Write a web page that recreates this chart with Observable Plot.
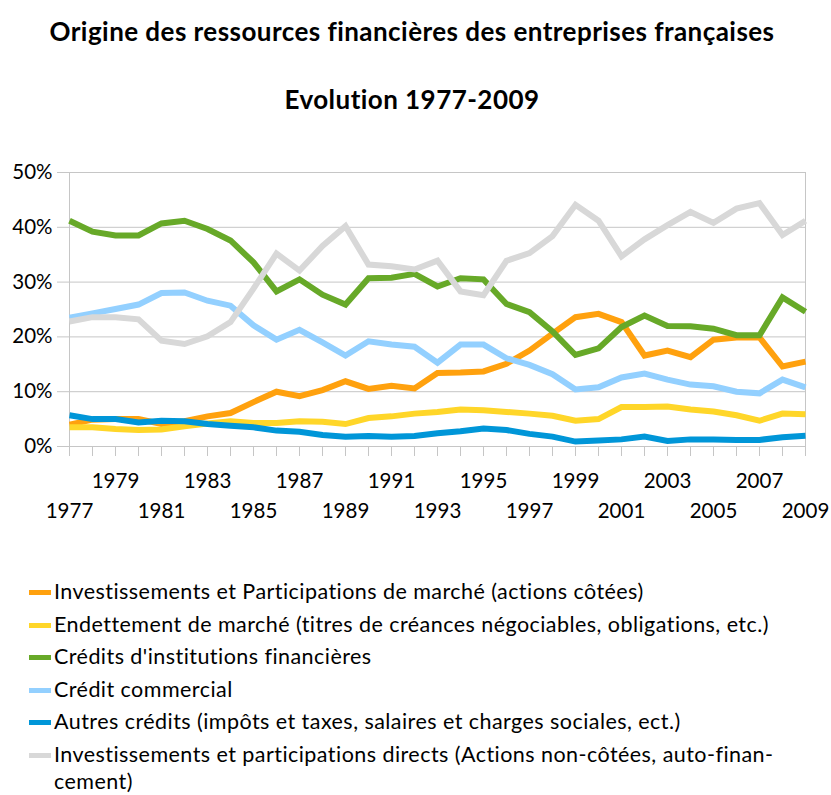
<!DOCTYPE html>
<html><head><meta charset="utf-8">
<script src="https://cdn.jsdelivr.net/npm/d3@7"></script>
<script src="https://cdn.jsdelivr.net/npm/@observablehq/plot@0.6"></script>
<style>
body{margin:0;background:#fff;font-family:Lato,"Open Sans",sans-serif;color:#000;}
#wrap{position:relative;width:831px;height:795px;overflow:hidden;}
.title{position:absolute;left:0;width:824px;text-align:center;font-weight:bold;font-size:26px;line-height:31.2px;letter-spacing:0.45px;white-space:nowrap;}
#chart{position:absolute;left:0;top:140px;}
#legend{position:absolute;left:29px;top:578px;font-size:21.5px;letter-spacing:0.45px;white-space:nowrap;}
.item{display:flex;align-items:flex-start;line-height:27.4px;margin-bottom:5.2px;}
.sw{flex:none;width:21.5px;height:5px;margin-top:12px;margin-right:3.5px;}
</style></head>
<body>
<div id="wrap">
<div class="title" style="top:16px">Origine des ressources financières des entreprises françaises</div>
<div class="title" style="top:84px">Evolution 1977-2009</div>
<div id="chart"></div>
<div id="legend"></div>
</div>
<script>
const years = [1977,1978,1979,1980,1981,1982,1983,1984,1985,1986,1987,1988,1989,1990,1991,1992,1993,1994,1995,1996,1997,1998,1999,2000,2001,2002,2003,2004,2005,2006,2007,2008,2009];
const seriesNames = [
  "Investissements et Participations de marché (actions côtées)",
  "Endettement de marché (titres de créances négociables, obligations, etc.)",
  "Crédits d'institutions financières",
  "Crédit commercial",
  "Autres crédits (impôts et taxes, salaires et charges sociales, ect.)",
  "Investissements et participations directs (Actions non-côtées, auto-financement)"
];
const legendLabels = [
  "Investissements et Participations de marché (actions côtées)",
  "Endettement de marché (titres de créances négociables, obligations, etc.)",
  "Crédits d'institutions financières",
  "Crédit commercial",
  "Autres crédits (impôts et taxes, salaires et charges sociales, ect.)",
  "Investissements et participations directs (Actions non-côtées, auto-finan-<br>cement)"
];
const colors = ["#ffa10e","#ffd629","#67a928","#93d0ff","#0096d8","#d8d8d8"];
const actionsCotees = [4.0,4.9,5.0,5.0,4.1,4.6,5.5,6.1,8.1,10.0,9.2,10.3,11.9,10.5,11.1,10.6,13.4,13.5,13.7,15.1,17.5,20.6,23.6,24.2,22.7,16.6,17.5,16.3,19.5,19.9,19.9,14.6,15.5];
const endettementMarche = [3.5,3.5,3.2,3.0,3.1,3.7,4.2,4.6,4.3,4.3,4.6,4.5,4.1,5.2,5.5,6.0,6.3,6.75,6.6,6.3,6.0,5.6,4.7,5.0,7.2,7.2,7.3,6.75,6.4,5.7,4.7,6.0,5.9];
const creditsInstitutions = [41.2,39.2,38.5,38.5,40.7,41.2,39.7,37.6,33.6,28.3,30.5,27.7,25.9,30.7,30.8,31.5,29.2,30.7,30.5,26.0,24.5,21.0,16.7,17.9,21.8,23.9,22.0,21.95,21.5,20.3,20.3,27.2,24.6];
const creditCommercial = [23.5,24.3,25.1,25.9,28.0,28.1,26.6,25.7,22.1,19.5,21.3,19.0,16.6,19.2,18.6,18.2,15.3,18.6,18.6,16.1,14.9,13.2,10.4,10.8,12.6,13.3,12.2,11.3,11.0,10.0,9.7,12.2,10.8];
const autresCredits = [5.7,5.0,5.0,4.4,4.7,4.6,4.1,3.8,3.5,2.9,2.7,2.1,1.8,1.9,1.8,1.9,2.4,2.8,3.3,3.0,2.3,1.8,0.9,1.1,1.3,1.8,1.0,1.3,1.3,1.2,1.2,1.7,1.95];
const participationsDirects = [22.8,23.6,23.6,23.2,19.3,18.7,20.1,22.7,28.8,35.2,32.1,36.6,40.2,33.2,32.9,32.3,33.9,28.3,27.6,33.9,35.3,38.4,44.1,41.2,34.7,37.8,40.4,42.8,40.8,43.4,44.4,38.6,41.2];
const yTicks = [0,10,20,30,40,50];
const upperLabels = [1979,1983,1987,1991,1995,1999,2003,2007];
const lowerLabels = [1977,1981,1985,1989,1993,1997,2001,2005,2009];

const allSeries = [actionsCotees,endettementMarche,creditsInstitutions,creditCommercial,autresCredits,participationsDirects];
const data = [];
allSeries.forEach((vals, i) => vals.forEach((v, j) => data.push({series: seriesNames[i], year: years[j], value: v})));

const grid = "#c6c6c6";
const plot = Plot.plot({
  width: 831,
  height: 400,
  marginLeft: 69,
  marginRight: 26,
  marginTop: 32,
  marginBottom: 94,
  style: {fontFamily: "Lato, 'Open Sans', sans-serif", fontSize: "20px", background: "white", color: "black"},
  x: {type: "linear", domain: [1977, 2009], label: null},
  y: {domain: [0, 50], label: null},
  color: {domain: seriesNames, range: colors},
  marks: [
    Plot.gridY(yTicks, {stroke: grid, strokeOpacity: 1}),
    Plot.axisY(yTicks, {tickSize: 12, tickPadding: 5, stroke: grid, fill: "black", tickFormat: d => d + "%", fontSize: 20.5}),
    Plot.ruleX([1977, 2009], {y1: 0, y2: 50, stroke: grid}),
    Plot.axisX(years, {tickSize: 10, stroke: grid, fill: "none"}),
    Plot.axisX(upperLabels, {tickSize: 0, tickPadding: 27, fill: "black", tickFormat: d => String(d), fontSize: 20.5}),
    Plot.axisX(lowerLabels, {tickSize: 0, tickPadding: 57, fill: "black", tickFormat: d => String(d), fontSize: 20.5}),
    Plot.line(data, {x: "year", y: "value", z: "series", stroke: "series", strokeWidth: 6, strokeLinejoin: "miter", strokeLinecap: "butt", strokeMiterlimit: 4})
  ]
});
document.getElementById("chart").appendChild(plot);

const legend = document.getElementById("legend");
legendLabels.forEach((lab, i) => {
  const it = document.createElement("div");
  it.className = "item";
  it.innerHTML = `<span class="sw" style="background:${colors[i]}"></span><span>${lab}</span>`;
  legend.appendChild(it);
});
</script>
</body></html>
